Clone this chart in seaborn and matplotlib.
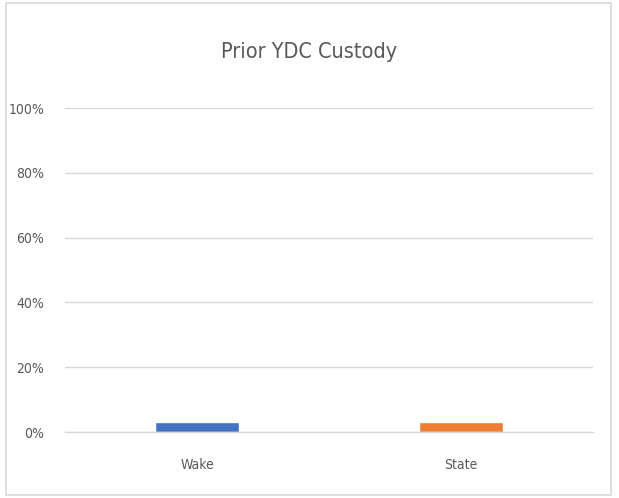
import matplotlib
matplotlib.use("Agg")
import matplotlib.pyplot as plt
import seaborn as sns
import pandas as pd
from matplotlib.patches import Rectangle
from matplotlib.ticker import PercentFormatter

categories = ["Wake", "State"]
values = [0.03, 0.03]
colors = ["#4472C4", "#ED7D31"]
yticks = [0, 0.2, 0.4, 0.6, 0.8, 1.0]
title = "Prior YDC Custody"

sns.set_theme(style="white")
plt.rcParams['font.family'] = ['DejaVu Sans']
plt.rcParams['font.stretch'] = 'condensed'

df = pd.DataFrame({"cat": categories, "val": values})

fig = plt.figure(figsize=(6.19, 4.98), dpi=100)
ax = fig.add_axes([65/619, 66/498, 528/619, 324/498])
sns.barplot(data=df, x="cat", y="val", hue="cat", palette=colors, width=0.32,
            legend=False, ax=ax, saturation=1)
ax.set_ylim(0, 1)
ax.set_xlim(-0.5, 1.5)
ax.set_yticks(yticks)
ax.yaxis.set_major_formatter(PercentFormatter(1.0, decimals=0))
ax.grid(axis="y", color="#D9D9D9", linewidth=1)
ax.set_axisbelow(True)
for s in ["top", "right", "left"]:
    ax.spines[s].set_visible(False)
ax.spines["bottom"].set_color("#D9D9D9")
ax.spines["bottom"].set_linewidth(1)
ax.tick_params(axis="both", length=0, labelsize=10, colors="#595959")
ax.tick_params(axis="y", pad=15)
ax.tick_params(axis="x", pad=19)
ax.set_xlabel("")
ax.set_ylabel("")
fig.text(0.5, 1 - 52/498, title, ha="center", va="center", fontsize=15.5, color="#595959")
fig.patches.append(Rectangle((6/619, 3/498), 605/619, 492/498, transform=fig.transFigure,
                             fill=False, edgecolor="#D9D9D9", linewidth=1.2))
fig.savefig("out.png", dpi=100)
